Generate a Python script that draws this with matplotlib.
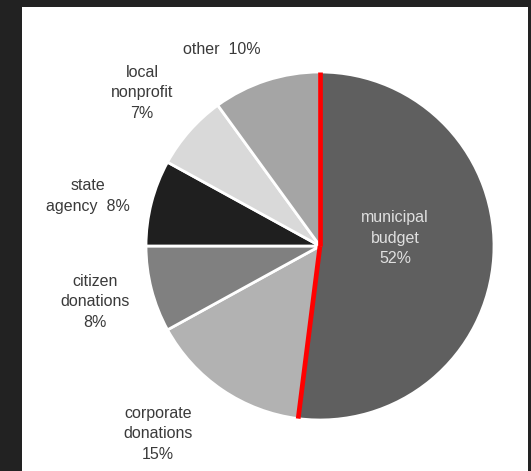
import numpy as np
import matplotlib.pyplot as plt

plt.rcParams['font.family'] = ['Liberation Sans', 'DejaVu Sans']

# datos
sources = ['municipal\nbudget', 'corporate\ndonations', 'citizen\ndonations',
           'state\nagency', 'local\nnonprofit', 'other']
shares = [52, 15, 8, 8, 7, 10]
label_text = ['municipal\nbudget\n52%', 'corporate\ndonations\n15%', 'citizen\ndonations\n8%',
              'state\nagency  8%', 'local\nnonprofit\n7%', 'other  10%']
colores = ['#5f5f5f', '#b2b2b2', '#808080', '#1f1f1f', '#d9d9d9', '#a5a5a5']

# posiciones de etiquetas (pixeles de la imagen)
label_xy = [(395, 238), (158, 434), (95, 302), (88, 196), (142, 93), (222, 49)]

W, H = 531, 471
fig = plt.figure(figsize=(W / 100, H / 100), dpi=100, facecolor='#222222')
# fondo blanco del recuadro
fig.patches.append(plt.Rectangle((22 / W, 0), 506 / W, 464 / H, transform=fig.transFigure,
                                 facecolor='white', edgecolor='none', zorder=-10))
ax = fig.add_axes([22 / W, 0, 506 / W, 464 / H])

cx, cy, r = 320, H - 246, 174
ax.pie(shares, colors=colores, startangle=90, counterclock=False,
       center=(cx, cy), radius=r, frame=True,
       wedgeprops=dict(edgecolor='white', linewidth=2))
ax.set_xlim(22, 528)
ax.set_ylim(0, 464)
ax.set_aspect('equal')
ax.set_axis_off()

# bordes rojos del presupuesto municipal
a0 = np.deg2rad(90)
a1 = np.deg2rad(90 - 360 * shares[0] / sum(shares))
for a in (a0, a1):
    ax.plot([cx, cx + r * np.cos(a)], [cy, cy + r * np.sin(a)], color='red',
            linewidth=3.4, solid_capstyle='butt', zorder=5)

for i, (t, (x, y)) in enumerate(zip(label_text, label_xy)):
    col = '#e0e0e0' if i == 0 else '#3a3a3a'
    ax.text(x, H - y, t, ha='center', va='center', fontsize=11.5, color=col,
            linespacing=1.45)

fig.savefig('out.png', dpi=100, facecolor=fig.get_facecolor())
